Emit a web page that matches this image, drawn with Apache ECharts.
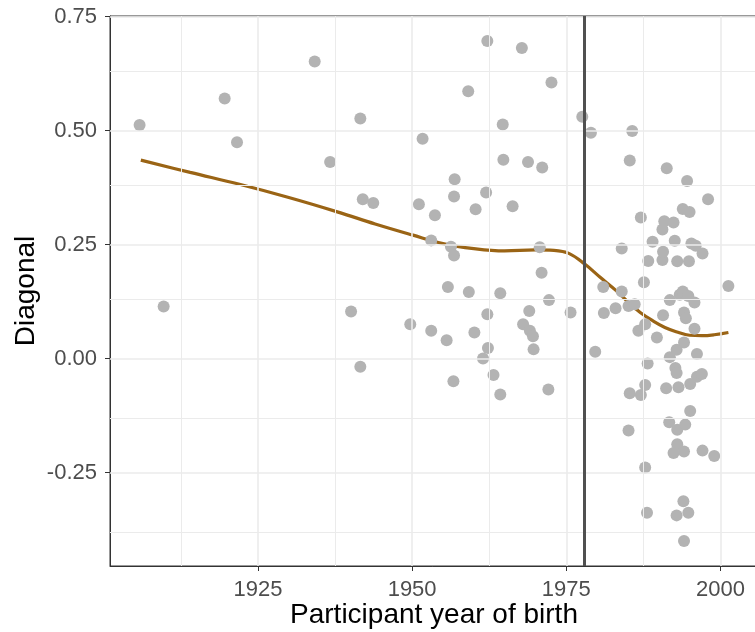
<!DOCTYPE html>
<html>
<head>
<meta charset="utf-8">
<script src="https://cdn.jsdelivr.net/npm/echarts@6/dist/echarts.min.js"></script>
<style>
html,body{margin:0;padding:0;background:#fff;}
#chart{width:755px;height:632px;}
</style>
</head>
<body>
<div id="chart"></div>
<script>
// ---- data ----
const birthYears = [1905.8,1909.7,1919.6,1921.6,1934.2,1936.7,1940.1,1941.6,1941.6,1942.0,1943.7,1949.7,1951.1,1951.7,1953.1,1953.1,1953.7,1955.6,1955.8,1956.3,1956.7,1956.8,1956.8,1956.9,1959.1,1959.2,1960.1,1960.3,1961.5,1962.0,1962.2,1962.2,1962.3,1963.2,1964.3,1964.3,1964.7,1964.8,1966.3,1967.8,1968.0,1968.8,1969.0,1969.1,1969.6,1969.7,1970.7,1971.0,1971.1,1972.1,1972.2,1972.6,1975.7,1977.6,1979.0,1979.7,1981.0,1981.1,1983.0,1984.0,1984.0,1985.1,1985.1,1985.3,1985.3,1985.7,1986.1,1986.7,1987.1,1987.1,1987.6,1987.8,1987.8,1987.8,1988.1,1988.2,1988.3,1989.0,1989.7,1990.6,1990.6,1990.7,1990.7,1990.9,1991.2,1991.3,1991.7,1991.8,1991.8,1992.4,1992.4,1992.6,1992.7,1992.9,1992.9,1992.9,1993.0,1993.0,1993.0,1993.2,1993.4,1993.9,1993.9,1994.0,1994.1,1994.1,1994.1,1994.1,1994.3,1994.4,1994.6,1994.8,1994.8,1994.9,1995.0,1995.1,1995.1,1995.3,1995.8,1995.8,1996.0,1996.2,1996.2,1997.0,1997.1,1997.1,1998.0,1999.0,2001.3];
const diagonalValues = [0.512,0.114,0.570,0.474,0.651,0.431,0.103,0.526,-0.018,0.349,0.341,0.075,0.338,0.482,0.259,0.061,0.314,0.040,0.157,0.245,-0.050,0.226,0.355,0.393,0.586,0.146,0.057,0.327,0.000,0.364,0.696,0.097,0.023,-0.036,0.143,-0.079,0.513,0.436,0.334,0.681,0.075,0.431,0.104,0.061,0.049,0.020,0.244,0.188,0.419,-0.068,0.128,0.605,0.101,0.530,0.495,0.015,0.157,0.100,0.110,0.241,0.147,0.115,-0.158,0.434,-0.076,0.499,0.119,0.061,0.309,-0.080,0.167,0.075,-0.058,-0.239,-0.338,-0.011,0.214,0.256,0.046,0.283,0.216,0.234,0.095,0.301,-0.065,0.417,-0.140,0.128,0.003,0.298,-0.207,0.258,-0.021,0.019,-0.032,-0.344,0.213,-0.156,-0.188,-0.063,0.140,0.328,0.147,-0.313,0.101,0.035,-0.204,-0.400,-0.145,0.088,0.389,0.137,-0.338,0.213,0.321,-0.056,-0.115,0.252,0.123,0.065,0.247,0.010,-0.040,-0.034,0.230,-0.202,0.349,-0.214,0.159];

const smoothYears  = [1906,1914,1922,1930,1938,1944,1950,1955,1960,1965,1970,1973,1975.5,1978,1980.5,1983,1985,1987,1989,1991,1993,1995,1997,1999,2001.3];
const smoothValues = [0.435,0.408,0.382,0.353,0.321,0.295,0.271,0.252,0.241,0.236,0.238,0.237,0.230,0.207,0.178,0.150,0.124,0.101,0.083,0.068,0.058,0.051,0.050,0.052,0.057];

const cutoffYear = 1978;

const xTickValues  = [1925,1950,1975,2000];
const xMinorValues = [1912.5,1937.5,1962.5,1987.5];
const yTickValues  = [-0.25,0,0.25,0.5,0.75];
const yMinorValues = [-0.375,-0.125,0.125,0.375,0.625];

const xRange = [1901.0, 2006.1];
const yRange = [-0.455, 0.751];

// ---- chart ----
const FONT = 'Liberation Sans, Arial, sans-serif';
const gridColor = '#ebebeb';

function gridLines(vals, key, width){
  return vals.map(v => ({[key]: v, lineStyle:{width:width, color:gridColor, type:'solid'}}));
}

const chart = echarts.init(document.getElementById('chart'), null, {renderer:'canvas'});
chart.setOption({
  animation:false,
  backgroundColor:'#ffffff',
  grid:{left:110, top:16, right:-3, bottom:66, containLabel:false, outerBoundsMode:'none',
    show:true, borderColor:'#333333', borderWidth:1, backgroundColor:'transparent'},
  xAxis:{
    type:'value', min:xRange[0], max:xRange[1],
    name:'Participant year of birth', nameLocation:'middle', nameGap:35, nameMoveOverlap:false,
    nameTextStyle:{fontFamily:FONT, fontSize:28, color:'#000'},
    axisLine:{show:true, onZero:false, lineStyle:{color:'#333333', width:1}},
    axisTick:{show:true, length:5, customValues:xTickValues, lineStyle:{color:'#333333', width:1}},
    axisLabel:{customValues:xTickValues, fontFamily:FONT, fontSize:22, color:'#4d4d4d', margin:13,
      formatter:v => String(v)},
    splitLine:{show:false}
  },
  yAxis:{
    type:'value', min:yRange[0], max:yRange[1],
    name:'Diagonal', nameLocation:'middle', nameGap:70, nameRotate:90, nameMoveOverlap:false,
    nameTextStyle:{fontFamily:FONT, fontSize:28, color:'#000'},
    axisLine:{show:true, onZero:false, lineStyle:{color:'#333333', width:1}},
    axisTick:{show:true, length:5, customValues:yTickValues, lineStyle:{color:'#333333', width:1}},
    axisLabel:{customValues:yTickValues, fontFamily:FONT, fontSize:22, color:'#4d4d4d', margin:13,
      formatter:v => v.toFixed(2)},
    splitLine:{show:false}
  },
  series:[
    {
      type:'scatter', data:[], z:0, silent:true,
      markLine:{
        silent:true, symbol:'none', label:{show:false}, animation:false,
        emphasis:{disabled:true},
        data:[].concat(
          gridLines(xMinorValues,'xAxis',1),
          gridLines(yMinorValues,'yAxis',1),
          gridLines(xTickValues,'xAxis',1.6),
          gridLines(yTickValues,'yAxis',1.6)
        )
      }
    },
    {
      type:'line', z:2, silent:true,
      data: smoothYears.map((y,i)=>[y, smoothValues[i]]),
      smooth:0.4, showSymbol:false, symbol:'none',
      lineStyle:{color:'#9a6415', width:3.2}
    },
    {
      type:'scatter', z:3, silent:true,
      data: birthYears.map((y,i)=>[y, diagonalValues[i]]),
      symbolSize:12,
      itemStyle:{color:'#b3b3b3', opacity:1}
    },
    {
      type:'scatter', data:[], z:5, silent:true,
      markLine:{
        silent:true, symbol:'none', label:{show:false}, animation:false,
        emphasis:{disabled:true},
        data:[{xAxis:cutoffYear, lineStyle:{color:'#505050', width:3, type:'solid'}}]
      }
    }
  ]
});
</script>
</body>
</html>
